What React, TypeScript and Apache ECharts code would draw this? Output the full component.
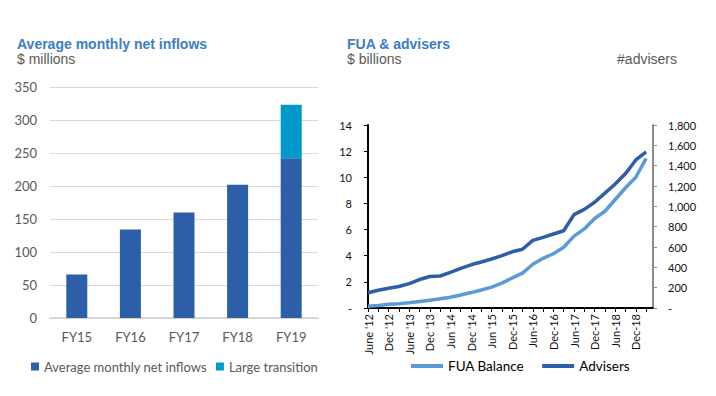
import React, { useEffect, useRef } from "react";
import * as echarts from "echarts";

// ---- Left chart data ----
const fyCategories = ["FY15", "FY16", "FY17", "FY18", "FY19"];
const netInflows = [66, 134, 160, 202, 242];
const largeTransition = [null, null, null, null, 81];

// ---- Right chart data (quarterly, Jun-12 .. Mar-19) ----
const halfYearLabels = [
  "June '12", "Dec '12", "June '13", "Dec '13", "Jun '14", "Dec '14", "Jun '15",
  "Dec-15", "Jun-16", "Dec-16", "Jun-17", "Dec-17", "Jun-18", "Dec-18",
];
const fuaBalance = [
  0.13, 0.2, 0.28, 0.33, 0.4, 0.5, 0.6, 0.7, 0.82, 1.0, 1.18, 1.38, 1.6, 1.9,
  2.3, 2.67, 3.35, 3.8, 4.15, 4.65, 5.5, 6.05, 6.85, 7.4, 8.3, 9.2, 10.0, 11.45,
];
const advisers = [
  150, 175, 195, 212, 240, 280, 310, 315, 350, 390, 425, 452, 482, 515, 553, 578,
  665, 695, 728, 760, 918, 970, 1040, 1130, 1220, 1322, 1456, 1535,
];
const monthCount = 84; // Jun-12 .. May-19, monthly axis slots

const TITLE_BLUE = "#3C7DC4";
const GREY = "#595959";
const DARK_BLUE = "#2D5EA8";
const LIGHT_BLUE = "#0099CC";
const FUA_BLUE = "#5B9BD5";

export default function App() {
  const ref = useRef<HTMLDivElement>(null);

  useEffect(() => {
    if (!ref.current) return;
    const chart = echarts.init(ref.current, undefined, { renderer: "svg" });

    const months = Array.from({ length: monthCount }, (_, m) =>
      m % 6 === 0 && m / 6 < halfYearLabels.length ? halfYearLabels[m / 6] : `m${m}`
    );
    const toMonthly = (arr: number[]) =>
      months.map((_, m) => (m % 3 === 0 && m / 3 < arr.length ? arr[m / 3] : null));

    const option: any = {
      animation: false,
      textStyle: { fontFamily: "Lato" },
      graphic: [
        { type: "text", left: 17, top: 37, style: { text: "Average monthly net inflows", fill: TITLE_BLUE, font: 'bold 14px "Liberation Sans"' } },
        { type: "text", left: 17, top: 52, style: { text: "$ millions", fill: GREY, font: '14px "Liberation Sans"' } },
        { type: "text", left: 347, top: 37, style: { text: "FUA & advisers", fill: TITLE_BLUE, font: 'bold 14px "Liberation Sans"' } },
        { type: "text", left: 347, top: 52, style: { text: "$ billions", fill: GREY, font: '14px "Liberation Sans"' } },
        { type: "text", right: 39, top: 52, style: { text: "#advisers", fill: GREY, font: '14px "Liberation Sans"' } },
      ],
      grid: [
        { left: 50, right: 398, top: 87, bottom: 78, containLabel: false },
        { left: 368, right: 63, top: 125, bottom: 88, containLabel: false },
      ],
      legend: [
        {
          data: ["Average monthly net inflows", "Large transition"],
          left: 31, top: 360, padding: 0, itemWidth: 8, itemHeight: 8, itemGap: 9, icon: "rect",
          textStyle: { color: GREY, fontSize: 13, fontFamily: "Lato" },
        },
        {
          data: ["FUA Balance", "Advisers"],
          left: 411, top: 359, padding: 0, itemWidth: 32, itemHeight: 4, itemGap: 18, icon: "rect",
          textStyle: { color: "#000", fontSize: 13.5, fontFamily: "Lato" },
        },
      ],
      xAxis: [
        {
          type: "category", gridIndex: 0, data: fyCategories,
          axisLine: { lineStyle: { color: "#d0d0d0", width: 1.5 } },
          axisTick: { show: false },
          axisLabel: { color: GREY, fontSize: 13, margin: 12 },
        },
        {
          type: "category", gridIndex: 1, data: months, boundaryGap: false,
          axisLine: { lineStyle: { color: "#000", width: 2 } },
          axisTick: { interval: (i: number) => i % 3 === 0, length: 4, lineStyle: { color: "#000", width: 1 } },
          axisLabel: {
            interval: (i: number) => i % 6 === 0 && i / 6 < halfYearLabels.length,
            rotate: 90, color: "#111", fontSize: 11, margin: 6,
          },
        },
      ],
      yAxis: [
        {
          type: "value", gridIndex: 0, min: 0, max: 350, interval: 50,
          axisLine: { show: false }, axisTick: { show: false },
          splitLine: { lineStyle: { color: "#d9d9d9", width: 1 } },
          axisLabel: { color: GREY, fontSize: 13, margin: 13 },
        },
        {
          type: "value", gridIndex: 1, min: 0, max: 14, interval: 2, position: "left",
          axisLine: { show: true, lineStyle: { color: "#000", width: 2 } },
          axisTick: { show: true, length: 4, lineStyle: { color: "#000" } },
          splitLine: { show: false },
          axisLabel: { color: "#111", fontSize: 11, margin: 16, formatter: (v: number) => (v === 0 ? "-" : String(v)) },
        },
        {
          type: "value", gridIndex: 1, min: 0, max: 1800, interval: 200, position: "right",
          axisLine: { show: true, lineStyle: { color: "#8c8c8c", width: 2 } },
          axisTick: { show: true, length: 4, lineStyle: { color: "#8c8c8c" } },
          splitLine: { show: false },
          axisLabel: {
            color: "#111", fontSize: 11, margin: 15,
            formatter: (v: number) => (v === 0 ? "-" : v.toLocaleString("en-US")),
          },
        },
      ],
      series: [
        {
          name: "Average monthly net inflows", type: "bar", stack: "fy",
          xAxisIndex: 0, yAxisIndex: 0, data: netInflows, barWidth: 21,
          itemStyle: { color: DARK_BLUE },
        },
        {
          name: "Large transition", type: "bar", stack: "fy",
          xAxisIndex: 0, yAxisIndex: 0, data: largeTransition, barWidth: 21,
          itemStyle: { color: LIGHT_BLUE },
        },
        {
          name: "FUA Balance", type: "line", xAxisIndex: 1, yAxisIndex: 1,
          data: toMonthly(fuaBalance), connectNulls: true, showSymbol: false, symbol: "none",
          lineStyle: { color: FUA_BLUE, width: 3.5 }, itemStyle: { color: FUA_BLUE },
        },
        {
          name: "Advisers", type: "line", xAxisIndex: 1, yAxisIndex: 2,
          data: toMonthly(advisers), connectNulls: true, showSymbol: false, symbol: "none",
          lineStyle: { color: DARK_BLUE, width: 3.5 }, itemStyle: { color: DARK_BLUE },
        },
      ],
    };
    chart.setOption(option);
    return () => chart.dispose();
  }, []);

  return (
    <div
      ref={ref}
      style={{ position: "fixed", left: 0, top: 0, width: 716, height: 396, background: "#fff" }}
    />
  );
}
